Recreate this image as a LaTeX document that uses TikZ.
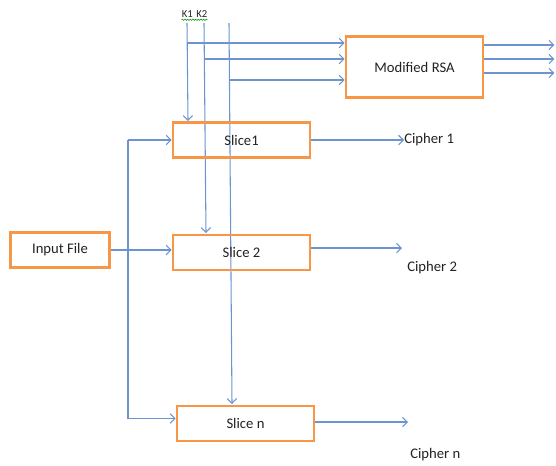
\documentclass[tikz,border=0pt]{standalone}
\usepackage{fontspec}
\setmainfont{Carlito}
\usetikzlibrary{arrows.meta}
\usetikzlibrary{calc}
\usetikzlibrary{decorations.pathmorphing}

\definecolor{boxorange}{HTML}{F79646}
\definecolor{linkblue}{HTML}{6C95CF}
\definecolor{textgray}{HTML}{222222}

\tikzset{
  box/.style={draw=boxorange, line width=1.9pt, fill=white, text=textgray,
    minimum width=103pt, minimum height=26pt, inner sep=0pt,
    font=\fontsize{11}{13}\selectfont},
  label/.style={text=textgray, inner sep=0pt, font=\fontsize{11}{13}\selectfont},
  link/.style={draw=linkblue, line width=0.8pt},
  >={Straight Barb[length=3.5pt,width=7pt]}
}

\begin{document}
\begin{tikzpicture}[x=0.75pt,y=-0.75pt]
            \useasboundingbox (0,0) rectangle (556,465);

            % key lines (drawn first, boxes cover them)
            \node[text=textgray, inner sep=0pt, font=\fontsize{8}{9}\selectfont] (keys) at (194.5,14) {K1\,\,K2};
            \draw[green!55!black, line width=0.4pt, decorate, decoration={snake, amplitude=0.5pt, segment length=2pt}] ($(keys.south west)+(0,2)$) -- ($(keys.south east)+(0,2)$);
            \coordinate (k1) at (187,23);
            \coordinate (k2) at (204,23);
            \coordinate (k3) at (229,23);

            \node[box, minimum height=45.5pt] (rsa) at (414.5,67) {Modified RSA};
            \coordinate (in1) at ($(rsa.west)+(0,-24)$);
            \coordinate (in2) at ($(rsa.west)+(0,-8)$);
            \coordinate (in3) at ($(rsa.west)+(0,13)$);

            \draw[link,->] (k1 |- in1) -- (in1);
            \draw[link,->] (k2 |- in2) -- (in2);
            \draw[link,->] (k3 |- in3) -- (in3);

            \foreach \dy/\n in {-22/1, -8/2, 6/3}
                \coordinate (out\n) at ($(rsa.east |- 0,67)+(70,\dy)$);
            \foreach \dy/\n in {-22/1, -8/2, 6/3}
                \draw[link,->] ($(rsa.east)+(0,\dy)$) -- (out\n);

            \draw[link,->] (k1) -- (188,121);
            \draw[link,->] (k2) -- (206,233);
            \draw[link,->] (k3) -- (232,404);

            % slices
            \node[box, fill=none] (slice1) at (241.5,140) {Slice1};
            \node[box, fill=none] (slice2) at (241.5,252.5) {Slice 2};
            \node[box, fill=none] (slicen) at (245.5,423.5) {Slice n};
            \node[box, minimum width=74pt] (input) at (60,250) {Input File};

            % input bus
            \coordinate (bus) at (128,0);
            \coordinate (sn) at ($(slicen.west)+(0,-5)$);
            \draw[link] (bus |- slice1.west) -- (bus |- sn);
            \draw[link,->] (bus |- slice1.west) -- (slice1.west);
            \draw[link,->] (bus |- sn) -- (sn);
            \draw[link,->] (input.east) -- (input.east -| slice2.west);

            % ciphers
            \node[label, anchor=west] (cipher1) at (404,140) {Cipher 1};
            \draw[link,->] (slice1.east) -- (cipher1.west);

            \node[label, anchor=west] (cipher2) at (407,268) {Cipher 2};
            \coordinate (c2) at (402,248);
            \draw[link,->] (slice2.east |- c2) -- (c2);

            \node[label, anchor=west] (ciphern) at (410,455) {Cipher n};
            \coordinate (cn) at (408,422);
            \draw[link,->] (slicen.east |- cn) -- (cn);

        \end{tikzpicture}
\end{document}
